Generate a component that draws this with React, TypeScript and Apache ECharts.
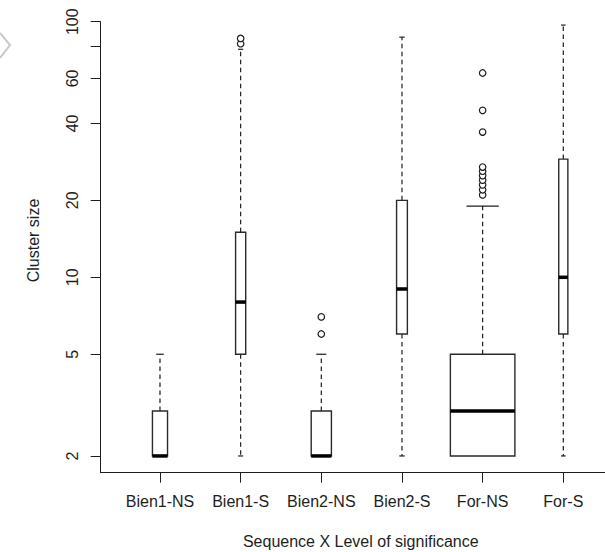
import React, { useEffect, useRef } from "react";
import * as echarts from "echarts";

// ---- data ----
const categories = ["Bien1-NS", "Bien1-S", "Bien2-NS", "Bien2-S", "For-NS", "For-S"];
const whiskerLow = [2, 2, 2, 2, 2, 2];
const quartile1 = [2, 5, 2, 6, 2, 6];
const medians = [2, 8, 2, 9, 3, 10];
const quartile3 = [3, 15, 3, 20, 5, 29];
const whiskerHigh = [5, 78, 5, 87, 19, 97];
const groupSizes = [82, 37, 147, 42, 1500, 30];
const outlierGroup = ["Bien1-S", "Bien1-S", "Bien2-NS", "Bien2-NS", "For-NS", "For-NS", "For-NS", "For-NS", "For-NS", "For-NS", "For-NS", "For-NS", "For-NS", "For-NS"];
const outlierValue = [82, 86, 6, 7, 21, 22, 23, 24, 25, 26, 27, 37, 45, 63];
const yTickValues = [2, 5, 10, 20, 40, 60, 80, 100];
const yLabelValues = [2, 5, 10, 20, 40, 60, 100];
const yAxisRange = [1.72, 100];
const xTitle = "Sequence X Level of significance";
const yTitle = "Cluster size";

const FONT = '"Liberation Sans", Arial, sans-serif';
const INK = "#1e1e1e";

export default function App() {
  const ref = useRef<HTMLDivElement>(null);
  useEffect(() => {
    if (!ref.current) return;
    const chart = echarts.init(ref.current, undefined, { renderer: "svg" });
    const maxN = Math.max(...groupSizes);
    const boxData = categories.map((_, i) => [
      i + 1,
      Math.log10(whiskerLow[i]),
      Math.log10(quartile1[i]),
      Math.log10(medians[i]),
      Math.log10(quartile3[i]),
      Math.log10(whiskerHigh[i]),
      0.8 * Math.sqrt(groupSizes[i] / maxN),
    ]);
    const outData = outlierValue.map((v, i) => [categories.indexOf(outlierGroup[i]) + 1, Math.log10(v)]);

    chart.setOption({
      animation: false,
      grid: { left: 100.7, top: 21.7, right: 0, bottom: 79.3, outerBoundsMode: "none" },
      xAxis: {
        type: "value",
        min: 0.265,
        max: 6.517,
        splitLine: { show: false },
        axisLine: { show: true, lineStyle: { color: INK, width: 1 } },
        axisTick: { show: true, length: 10, customValues: categories.map((_, i) => i + 1), lineStyle: { color: INK } },
        axisLabel: {
          customValues: categories.map((_, i) => i + 1),
          formatter: (v: number) => categories[Math.round(v) - 1] ?? "",
          fontSize: 16,
          fontFamily: FONT,
          color: INK,
          margin: 21,
        },
      },
      yAxis: {
        type: "value",
        min: Math.log10(yAxisRange[0]),
        max: Math.log10(yAxisRange[1]),
        splitLine: { show: false },
        axisLine: { show: true, lineStyle: { color: INK, width: 1 } },
        axisTick: { show: true, length: 10, customValues: yTickValues.map((v) => Math.log10(v)), lineStyle: { color: INK } },
        axisLabel: {
          customValues: yLabelValues.map((v) => Math.log10(v)),
          formatter: (v: number) => String(Math.round(Math.pow(10, v))),
          rotate: 90,
          fontSize: 16,
          fontFamily: FONT,
          color: INK,
          margin: 20,
        },
      },
      series: [
        {
          type: "custom",
          data: boxData,
          encode: { x: 0, y: [1, 2, 3, 4, 5] },
          renderItem: (params: any, api: any) => {
            const x = api.value(0);
            const lo = api.value(1);
            const a = api.value(2);
            const m = api.value(3);
            const b = api.value(4);
            const hi = api.value(5);
            const w = api.value(6);
            const halfW = api.size([w, 0])[0] / 2;
            const pLo = api.coord([x, lo]);
            const pA = api.coord([x, a]);
            const pM = api.coord([x, m]);
            const pB = api.coord([x, b]);
            const pHi = api.coord([x, hi]);
            const cx = pA[0];
            const children: any[] = [];
            const dash = { stroke: INK, lineWidth: 1.2, lineDash: [4.5, 3.5], fill: null };
            const solid = { stroke: INK, lineWidth: 1.2, fill: null };
            if (hi > b) {
              children.push({ type: "line", shape: { x1: cx, y1: pB[1], x2: cx, y2: pHi[1] }, style: dash });
              children.push({ type: "line", shape: { x1: cx - halfW / 2, y1: pHi[1], x2: cx + halfW / 2, y2: pHi[1] }, style: solid });
            }
            if (lo < a) {
              children.push({ type: "line", shape: { x1: cx, y1: pA[1], x2: cx, y2: pLo[1] }, style: dash });
              children.push({ type: "line", shape: { x1: cx - halfW / 2, y1: pLo[1], x2: cx + halfW / 2, y2: pLo[1] }, style: solid });
            }
            children.push({
              type: "rect",
              shape: { x: cx - halfW, y: pB[1], width: halfW * 2, height: pA[1] - pB[1] },
              style: { fill: "#ffffff", stroke: "#2a2a2a", lineWidth: 1.4 },
            });
            children.push({
              type: "line",
              shape: { x1: cx - halfW, y1: pM[1], x2: cx + halfW, y2: pM[1] },
              style: { stroke: "#000", lineWidth: 3.5 },
            });
            return { type: "group", children };
          },
        },
        {
          type: "scatter",
          data: outData,
          symbol: "circle",
          symbolSize: 6.5,
          itemStyle: { color: "#ffffff", borderColor: INK, borderWidth: 1.2, opacity: 1 },
          z: 3,
        },
      ],
      graphic: [
        {
          type: "text",
          x: 33,
          y: 240.5,
          rotation: Math.PI / 2,
          style: { text: yTitle, align: "center", verticalAlign: "middle", fontSize: 16, fontFamily: FONT, fill: INK },
        },
        {
          type: "text",
          x: 360.8,
          y: 541.7,
          style: { text: xTitle, align: "center", verticalAlign: "middle", fontSize: 16, fontFamily: FONT, fill: INK },
        },
        {
          type: "polyline",
          shape: { points: [[0, 33], [10, 45], [0, 58]] },
          style: { stroke: "#c8c8c8", lineWidth: 2, fill: null },
        },
      ],
    });
    return () => chart.dispose();
  }, []);
  return <div ref={ref} style={{ position: "absolute", left: 0, top: 0, width: 605, height: 552 }} />;
}
